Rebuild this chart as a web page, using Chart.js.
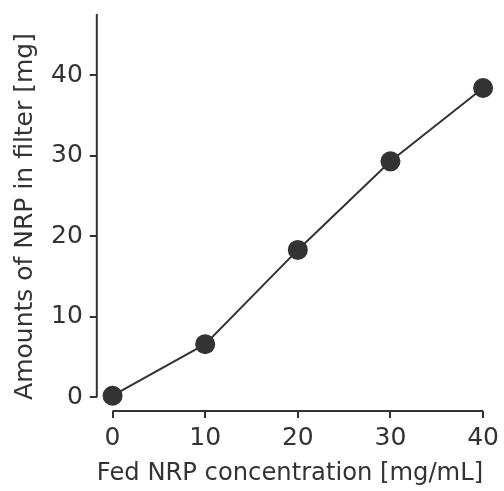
<!DOCTYPE html>
<html>
<head>
<meta charset="utf-8">
<script src="https://cdn.jsdelivr.net/npm/chart.js@4"></script>
<style>
  html, body { margin: 0; padding: 0; background: #fff; }
  #wrap { width: 504px; height: 491px; }
</style>
</head>
<body>
<div id="wrap"><canvas id="chart" width="504" height="491"></canvas></div>
<script>
const concentrations = [0, 10, 20, 30, 40];
const amounts = [0.2, 6.6, 18.3, 29.3, 38.4];
const xTicks = [0, 10, 20, 30, 40];
const yTicks = [0, 10, 20, 30, 40];
const xTitle = "Fed NRP concentration [mg/mL]";
const yTitle = "Amounts of NRP in filter [mg]";
const yAxisTop = 47.6; // y axis line runs a bit past the last tick

const ink = "#333333";
const font = { family: "'DejaVu Sans', Verdana, sans-serif", size: 25 };

// detached axis lines, drawn only over the data range
const axisLines = {
  id: "axisLines",
  afterDraw(chart) {
    const { ctx, scales, chartArea } = chart;
    const x = scales.x, y = scales.y;
    ctx.save();
    ctx.strokeStyle = ink;
    ctx.lineWidth = 2;
    ctx.beginPath();
    ctx.moveTo(x.getPixelForValue(0), chartArea.bottom);
    ctx.lineTo(x.getPixelForValue(40), chartArea.bottom);
    ctx.moveTo(chartArea.left, y.getPixelForValue(0));
    ctx.lineTo(chartArea.left, y.getPixelForValue(yAxisTop));
    ctx.stroke();
    ctx.restore();
  }
};

new Chart(document.getElementById("chart"), {
  type: "line",
  data: {
    datasets: [{
      data: concentrations.map((c, i) => ({ x: c, y: amounts[i] })),
      borderColor: ink,
      borderWidth: 2,
      backgroundColor: ink,
      pointBackgroundColor: ink,
      pointBorderWidth: 0,
      pointRadius: 10,
      tension: 0,
      clip: false
    }]
  },
  options: {
    responsive: false,
    animation: false,
    layout: { padding: { top: 4, right: 16, left: 10, bottom: 3 } },
    plugins: { legend: { display: false }, tooltip: { enabled: false } },
    scales: {
      x: {
        type: "linear",
        min: -1.7,
        max: 40,
        afterBuildTicks: (s) => { s.ticks = xTicks.map(v => ({ value: v })); },
        grid: { display: true, drawOnChartArea: false, drawTicks: true, tickLength: 7, color: ink, lineWidth: 2 },
        border: { display: false },
        ticks: { color: ink, font: font, padding: 5, maxRotation: 0, autoSkip: false },
        title: { display: true, text: xTitle, color: ink, font: font, padding: { top: 0, bottom: 0 } }
      },
      y: {
        type: "linear",
        min: -1.7,
        max: 46.6,
        afterBuildTicks: (s) => { s.ticks = yTicks.map(v => ({ value: v })); },
        grid: { display: true, drawOnChartArea: false, drawTicks: true, tickLength: 7, color: ink, lineWidth: 2 },
        border: { display: false },
        ticks: { color: ink, font: font, padding: 7, autoSkip: false },
        title: { display: true, text: yTitle, color: ink, font: font, padding: { top: 0, bottom: 4 } }
      }
    }
  },
  plugins: [axisLines]
});
</script>
</body>
</html>
